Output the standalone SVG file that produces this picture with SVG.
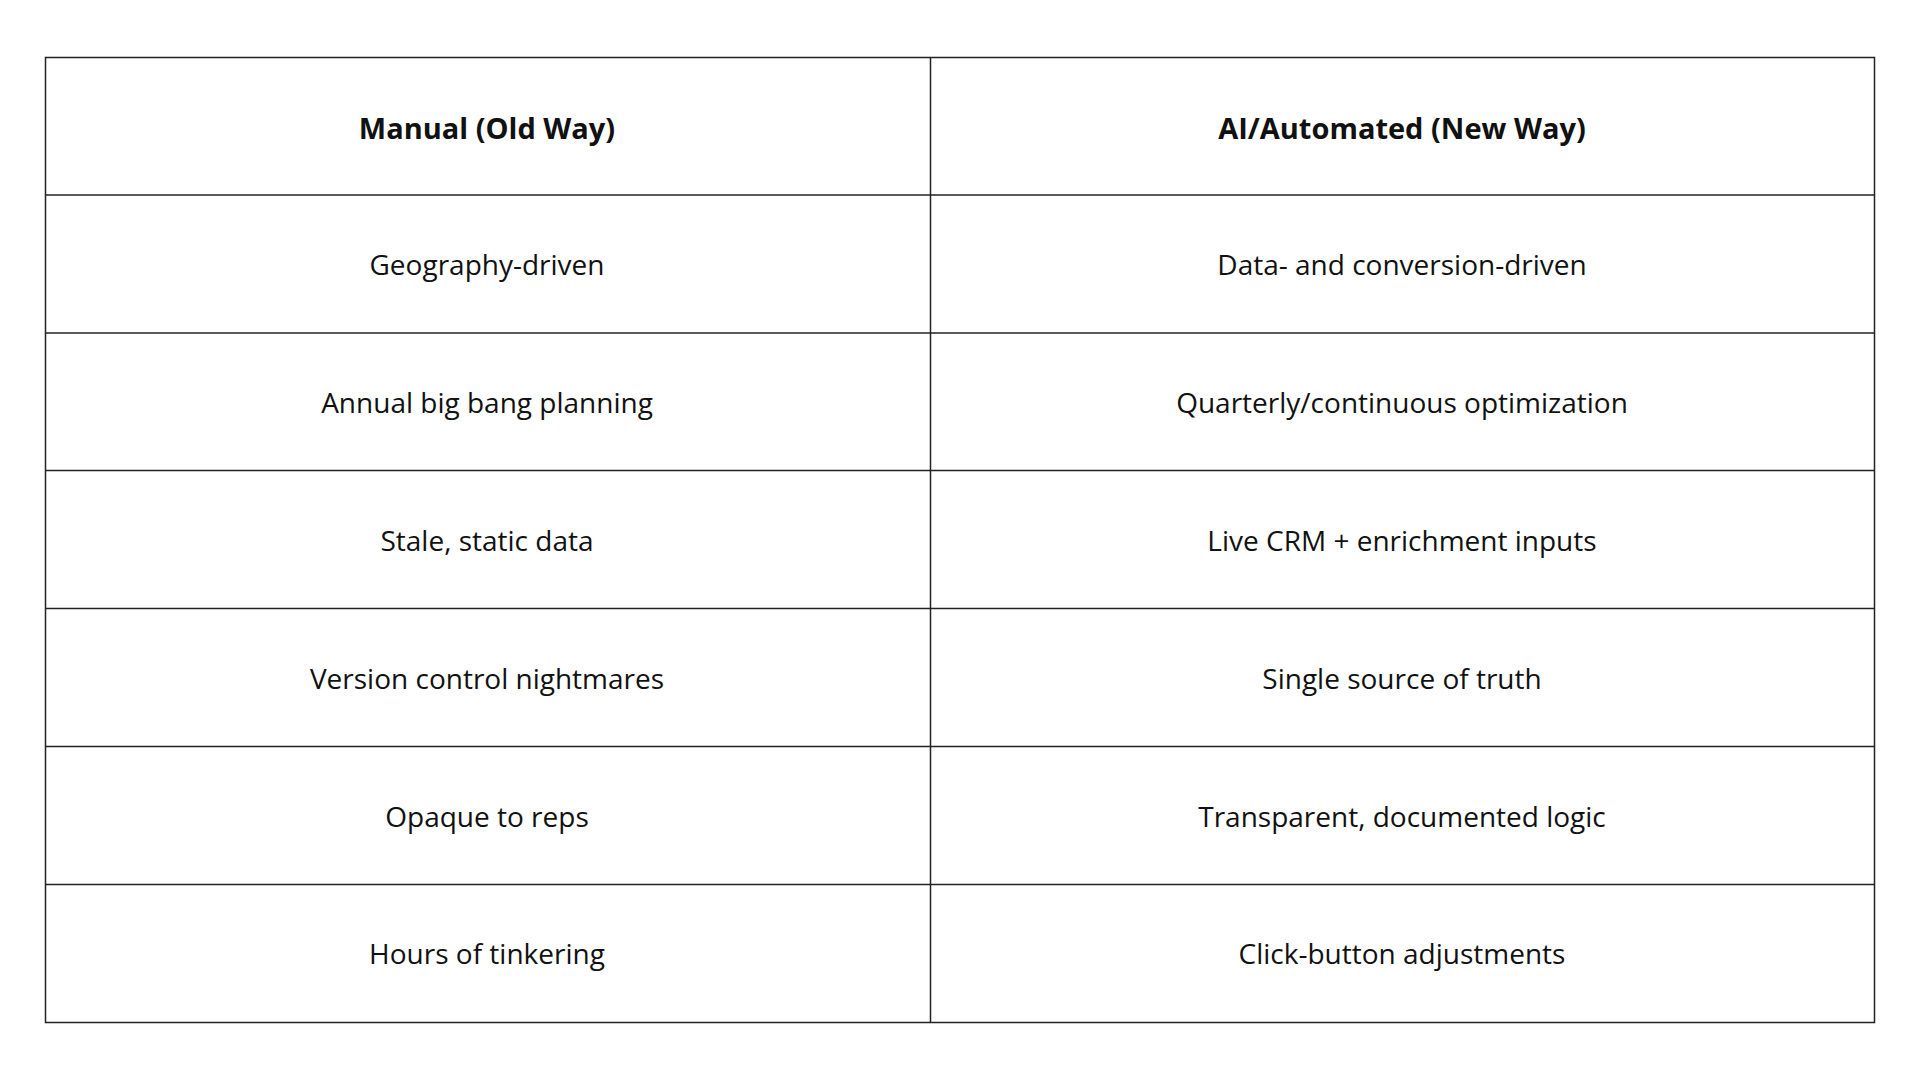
<svg xmlns="http://www.w3.org/2000/svg" width="1920" height="1080" viewBox="0 0 1920 1080">
<style>
.l{stroke:#222;stroke-width:1.5;fill:none}
text{font-family:"Open Sans","Liberation Sans",sans-serif;font-size:28px;fill:#111;text-anchor:middle;dominant-baseline:central}
.h{font-weight:bold;font-size:29px}
</style>
<rect width="1920" height="1080" fill="#fff"/>
<g id="grid">
<rect class="l" x="45.5" y="57.5" width="1829" height="965"/>
<line class="l" x1="930.5" y1="57.5" x2="930.5" y2="1022.5"/>
<line class="l" x1="45.5" y1="195" x2="1874.5" y2="195"/>
<line class="l" x1="45.5" y1="333" x2="1874.5" y2="333"/>
<line class="l" x1="45.5" y1="470.5" x2="1874.5" y2="470.5"/>
<line class="l" x1="45.5" y1="608.5" x2="1874.5" y2="608.5"/>
<line class="l" x1="45.5" y1="746.5" x2="1874.5" y2="746.5"/>
<line class="l" x1="45.5" y1="884.5" x2="1874.5" y2="884.5"/>
</g>
<g id="header">
<text class="h" x="487" y="127">Manual (Old Way)</text>
<text class="h" x="1402" y="127">AI/Automated (New Way)</text>
</g>
<g id="rows">
<text x="487" y="264">Geography-driven</text>
<text x="1402" y="264">Data- and conversion-driven</text>
<text x="487" y="402">Annual big bang planning</text>
<text x="1402" y="402">Quarterly/continuous optimization</text>
<text x="487" y="540">Stale, static data</text>
<text x="1402" y="540">Live CRM + enrichment inputs</text>
<text x="487" y="678">Version control nightmares</text>
<text x="1402" y="678">Single source of truth</text>
<text x="487" y="816">Opaque to reps</text>
<text x="1402" y="816">Transparent, documented logic</text>
<text x="487" y="953">Hours of tinkering</text>
<text x="1402" y="953">Click-button adjustments</text>
</g>
</svg>
